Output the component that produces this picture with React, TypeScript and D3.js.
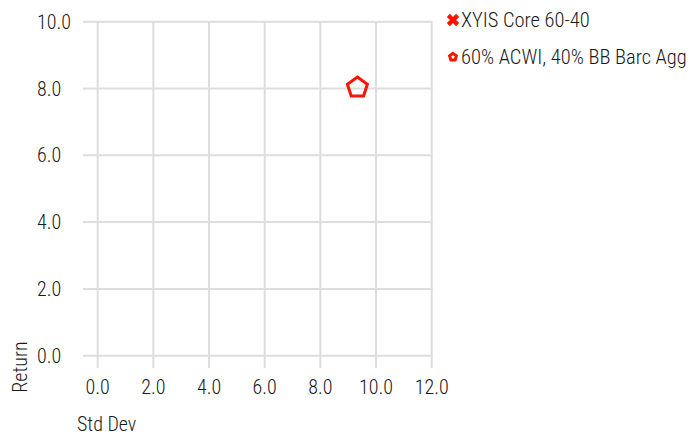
import React, { useEffect, useRef } from 'react';
import * as d3 from 'd3';

// chart data
const xTicks = [0, 2, 4, 6, 8, 10, 12];
const yTicks = [0, 2, 4, 6, 8, 10];
const seriesNames = ['XYIS Core 60-40', '60% ACWI, 40% BB Barc Agg'];
const xyisPoints: { sd: number; ret: number }[] = [];
const benchPoints = [{ sd: 9.33, ret: 8.03 }];

const FONT = "'Roboto Condensed', Roboto, sans-serif";
const RED = '#ff1200';
const GRID = '#dddddd';
const TXT = '#1a1a1a';
const FS = 20;
const FW = 300;

function pentagon(r: number) {
    const pts: [number, number][] = [];
    for (let i = 0; i < 5; i++) {
        const a = -Math.PI / 2 + (i * 2 * Math.PI) / 5;
        pts.push([r * Math.cos(a), r * Math.sin(a)]);
    }
    return 'M' + pts.map(p => p.join(',')).join('L') + 'Z';
}

export default function App() {
    const svgRef = useRef<SVGSVGElement>(null);

    useEffect(() => {
        if (!svgRef.current) return;
        const width = 698;
        const height = 437;
        const svg = d3.select(svgRef.current)
            .attr('width', width)
            .attr('height', height);
        svg.selectAll('*').remove();

        const x = d3.scaleLinear().domain([0, 12]).range([97.7, 431.7]);
        const y = d3.scaleLinear().domain([0, 10]).range([355.7, 21.7]);

        // Grid
        svg.append('g').selectAll('line')
            .data(yTicks)
            .enter()
            .append('line')
            .attr('x1', 83)
            .attr('x2', x(12) + 1)
            .attr('y1', d => y(d))
            .attr('y2', d => y(d))
            .attr('stroke', GRID)
            .attr('stroke-width', 2);

        svg.append('g').selectAll('line')
            .data(xTicks)
            .enter()
            .append('line')
            .attr('x1', d => x(d))
            .attr('x2', d => x(d))
            .attr('y1', y(10))
            .attr('y2', 368)
            .attr('stroke', GRID)
            .attr('stroke-width', 2);

        const txt = (sel: any) => sel
            .attr('font-family', FONT)
            .attr('font-size', FS)
            .attr('font-weight', FW)
            .attr('fill', TXT);

        // Y tick labels
        svg.append('g').selectAll('text')
            .data(yTicks)
            .enter()
            .append('text')
            .attr('x', 37)
            .attr('y', d => y(d) + 7)
            .call(txt)
            .text(d => d.toFixed(1));

        // X tick labels
        svg.append('g').selectAll('text')
            .data(xTicks)
            .enter()
            .append('text')
            .attr('x', d => x(d))
            .attr('y', 394)
            .attr('text-anchor', 'middle')
            .call(txt)
            .text(d => d.toFixed(1));

        // Axis titles
        svg.append('text')
            .attr('transform', 'translate(27,367) rotate(-90)')
            .attr('text-anchor', 'middle')
            .call(txt)
            .text('Return');

        svg.append('text')
            .attr('x', 77)
            .attr('y', 431)
            .call(txt)
            .text('Std Dev');

        // Points
        svg.append('g').selectAll('path')
            .data(xyisPoints)
            .enter()
            .append('path')
            .attr('transform', d => `translate(${x(d.sd)},${y(d.ret)}) rotate(45)`)
            .attr('d', d3.symbol(d3.symbolCross, 120)())
            .attr('fill', RED);

        svg.append('g').selectAll('path')
            .data(benchPoints)
            .enter()
            .append('path')
            .attr('transform', d => `translate(${x(d.sd)},${y(d.ret)})`)
            .attr('d', pentagon(10.5))
            .attr('fill', 'none')
            .attr('stroke', RED)
            .attr('stroke-width', 3);

        // Legend
        const legend = svg.append('g');
        const rows = legend.selectAll('g')
            .data(seriesNames)
            .enter()
            .append('g')
            .attr('transform', (_, i) => `translate(453,${20 + i * 37})`);

        rows.filter((_, i) => i === 0)
            .append('path')
            .attr('transform', 'rotate(45)')
            .attr('d', d3.symbol(d3.symbolCross, 95)())
            .attr('fill', RED);

        rows.filter((_, i) => i === 1)
            .append('path')
            .attr('d', pentagon(3.6))
            .attr('fill', 'white')
            .attr('stroke', RED)
            .attr('stroke-width', 3);

        rows.append('text')
            .attr('x', 8)
            .attr('y', 7)
            .call(txt)
            .attr('font-size', 20.5)
            .text(d => d);
    }, []);

    return (
        <svg ref={svgRef} style={{ position: 'absolute', left: 0, top: 0, background: 'white' }}></svg>
    );
}
